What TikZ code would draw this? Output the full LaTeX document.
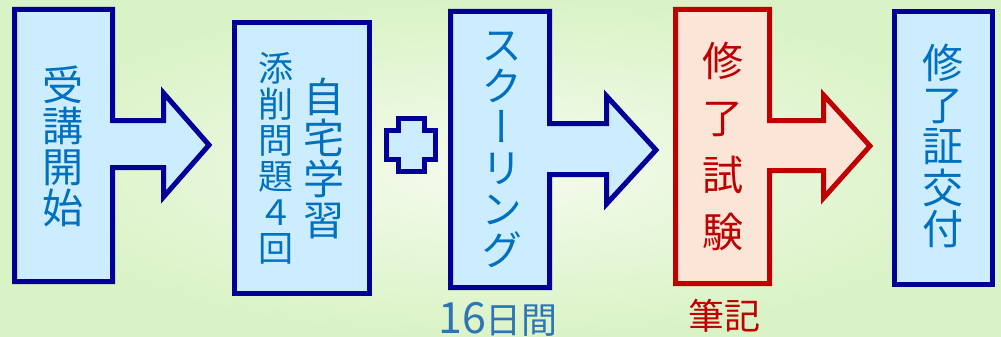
\documentclass[tikz,border=0pt]{standalone}
\usepackage{fontspec}
\newfontfamily\jpfont[RawFeature=+vert]{Noto Sans CJK JP}
\definecolor{navyline}{HTML}{000099}
\definecolor{redline}{HTML}{C00000}
\definecolor{bluefill}{HTML}{CCECFF}
\definecolor{pinkfill}{HTML}{FBE5D6}
\definecolor{bluetext}{HTML}{0070C0}
\definecolor{stepblue}{HTML}{2E75B6}
\definecolor{bginner}{HTML}{F5FBEE}
\definecolor{bgouter}{HTML}{DAF3C6}
\tikzset{
  bluebox/.style={draw=navyline, fill=bluefill, line width=5pt, miter limit=20},
  redbox/.style={draw=redline, fill=pinkfill, line width=5pt, miter limit=20},
  vtext/.style={align=center, text=bluetext, inner sep=0pt},
  note/.style={inner sep=0pt, font=\jpfont\fontsize{36}{36}\selectfont}
}
\begin{document}
\begin{tikzpicture}[x=1pt,y=-1pt]
\useasboundingbox (0,0) rectangle (1001,337);
\shade[inner color=bginner, outer color=bgouter] (0,0) rectangle (1001,337);

% block arrows
\draw[bluebox] (14.5,9.5) -- (112.5,9.5) -- (112.5,120.5) -- (163.5,120.5) -- (163.5,93)
  -- (209,145) -- (163.5,197) -- (163.5,167.5) -- (112.5,167.5) -- (112.5,281.5)
  -- (14.5,281.5) -- cycle;
\draw[bluebox] (234.5,22.5) rectangle (369.5,293.5);
\draw[bluebox] (398,118) -- (424,118) -- (424,130) -- (435,130) -- (435,159) -- (424,159)
  -- (424,171) -- (398,171) -- (398,159) -- (386,159) -- (386,130) -- (398,130) -- cycle;
\draw[bluebox] (450.5,11.5) -- (549.5,11.5) -- (549.5,123.5) -- (606.5,123.5) -- (606.5,96)
  -- (656,150) -- (606.5,204) -- (606.5,174.5) -- (549.5,174.5) -- (549.5,287.5)
  -- (450.5,287.5) -- cycle;
\draw[redbox] (675.5,9.5) -- (769.5,9.5) -- (769.5,120.5) -- (823.5,120.5) -- (823.5,95)
  -- (870,146) -- (823.5,198) -- (823.5,170.5) -- (769.5,170.5) -- (769.5,283.5)
  -- (675.5,283.5) -- cycle;
\draw[bluebox] (894.5,11.5) rectangle (992.5,284.5);

% texts
\node[vtext, font=\jpfont\fontsize{41}{41}\selectfont] (start) at (63,146) {受\\講\\開\\始};
\node[vtext, font=\jpfont\fontsize{41}{41}\selectfont] (home) at (324,158) {自\\宅\\学\\習};
\node[vtext, font=\jpfont\fontsize{35}{36}\selectfont] (tensaku) at (276,158) {添\\削\\問\\題\\４\\回};
\node[vtext, font=\jpfont\fontsize{41}{41}\selectfont] (school) at (502,150) {ス\\ク\\ー\\リ\\ン\\グ};
\node[vtext, text=redline, font=\jpfont\fontsize{41}{57}\selectfont] (exam) at (723,146) {修\\了\\試\\験};
\node[vtext, font=\jpfont\fontsize{41}{41.5}\selectfont] (cert) at (943,146) {修\\了\\証\\交\\付};
\node[note, text=stepblue] (days) at (498,319) {{\fontsize{43}{43}\selectfont 16}日間};
\node[note, text=redline] (written) at (724,316) {筆記};
\end{tikzpicture}
\end{document}
